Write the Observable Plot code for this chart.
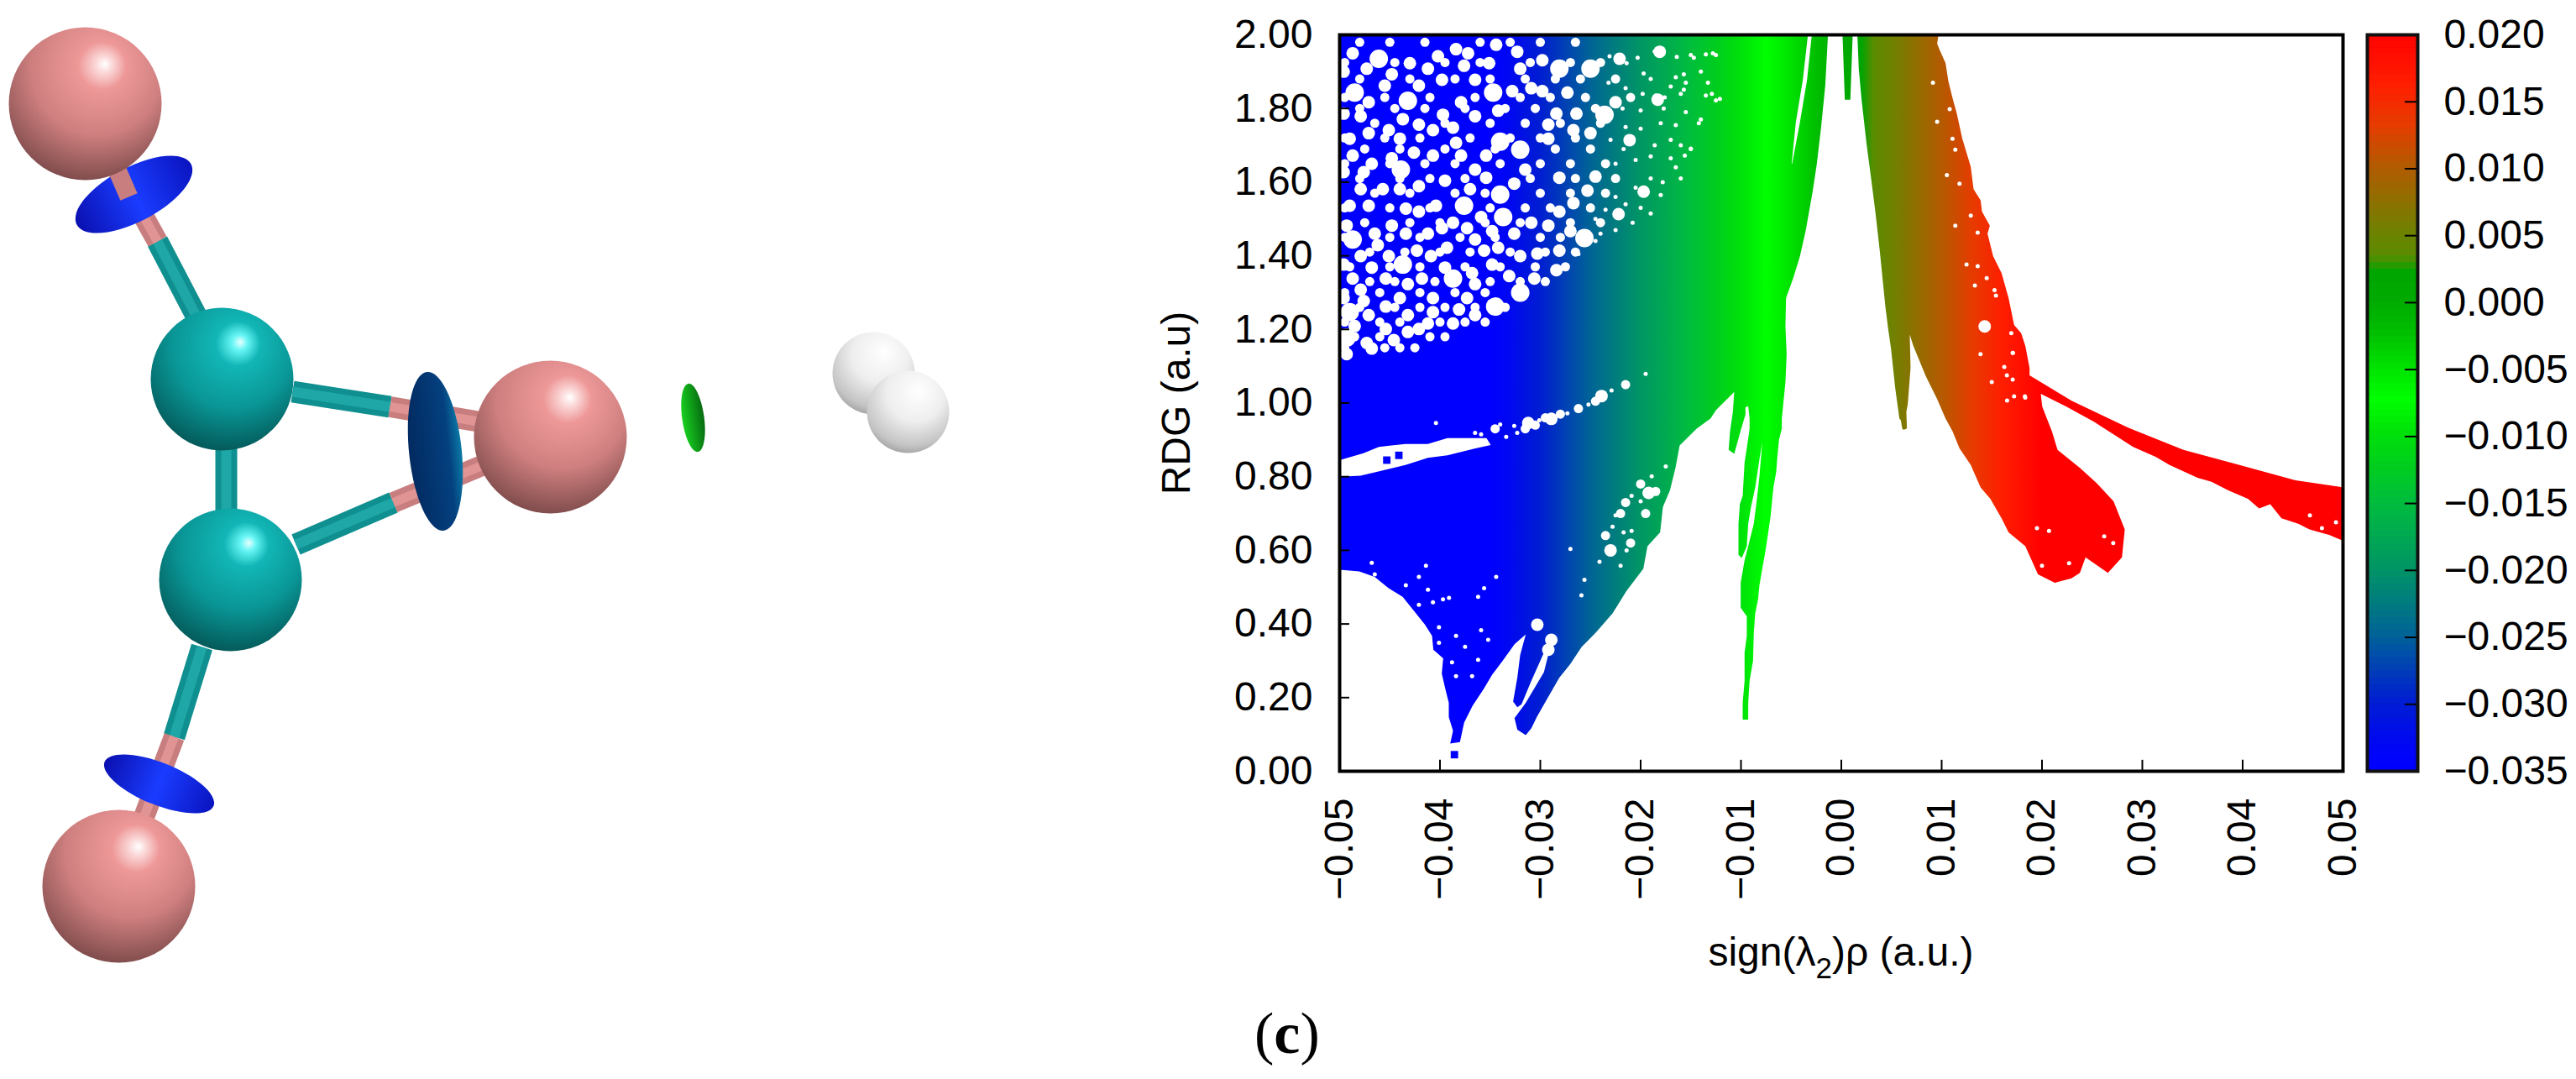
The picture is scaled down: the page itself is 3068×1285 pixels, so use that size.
<!DOCTYPE html>
<html>
<head>
<meta charset="utf-8">
<script src="https://cdn.jsdelivr.net/npm/d3@7"></script>
<script src="https://cdn.jsdelivr.net/npm/@observablehq/plot@0.6"></script>
<style>
  body { margin: 0; background: #fff; }
  #page { position: relative; width: 3068px; height: 1285px; overflow: hidden; }
  #panel { position: absolute; left: 1494px; top: 1191px; font: 70px "Liberation Serif", serif; color: #000; }
  #panel b { font-weight: 700; }
</style>
</head>
<body>
<div id="page"><div id="panel">(<b>c</b>)</div></div>
<script>
// axis ticks
const xTicks = [-0.05, -0.04, -0.03, -0.02, -0.01, 0, 0.01, 0.02, 0.03, 0.04, 0.05];
const yTicks = [0, 0.2, 0.4, 0.6, 0.8, 1, 1.2, 1.4, 1.6, 1.8, 2];
const cbTicks = [-0.035, -0.03, -0.025, -0.02, -0.015, -0.01, -0.005, 0, 0.005, 0.01, 0.015, 0.02];

// colour bar
const colorStops = [-0.035, -0.033, -0.03, -0.025, -0.02, -0.015, -0.0125, -0.01, -0.0075, -0.005, -0.0025, 0, 0.002, 0.0032, 0.005, 0.01, 0.013, 0.016, 0.02];
const colorRange = ["#0000ff", "#0008f0", "#001ed2", "#006496", "#009664", "#00be3c", "#00cd1e", "#00e10a", "#00ff00", "#00e100", "#00be00", "#00aa00", "#00a500", "#5a8c00", "#6e8200", "#b45a00", "#e63c00", "#ff1e00", "#ff0000"];

// outlines of the point cloud [sign(l2)rho, RDG]
const mainCloud = [[-0.05,2],[-0.00133,2],[-0.0016,1.862],[-0.00202,1.748],[-0.00244,1.65],[-0.00286,1.574],[-0.00356,1.467],[-0.00412,1.399],[-0.00481,1.338],[-0.00551,1.285],[-0.00557,1.209],[-0.00545,1.133],[-0.00557,1.057],[-0.00593,0.958],[-0.00593,0.931],[-0.00621,0.9],[-0.00635,0.862],[-0.00649,0.813],[-0.00677,0.771],[-0.00704,0.695],[-0.00732,0.642],[-0.0076,0.592],[-0.00788,0.55],[-0.00816,0.505],[-0.0083,0.467],[-0.00858,0.429],[-0.00872,0.376],[-0.0088,0.3],[-0.00914,0.246],[-0.00928,0.186],[-0.00928,0.14],[-0.00983,0.14],[-0.00983,0.186],[-0.00964,0.246],[-0.00964,0.322],[-0.00942,0.368],[-0.00942,0.421],[-0.01003,0.444],[-0.01003,0.512],[-0.00964,0.573],[-0.00928,0.611],[-0.009,0.642],[-0.00872,0.672],[-0.00844,0.733],[-0.00816,0.801],[-0.00802,0.847],[-0.00788,0.893],[-0.00816,0.847],[-0.00858,0.771],[-0.009,0.718],[-0.00928,0.672],[-0.00942,0.611],[-0.00992,0.579],[-0.01025,0.588],[-0.01025,0.672],[-0.01011,0.725],[-0.00983,0.748],[-0.00964,0.839],[-0.00942,0.877],[-0.00914,0.931],[-0.00914,0.958],[-0.00928,0.992],[-0.00956,0.988],[-0.00955,0.969],[-0.00997,0.931],[-0.01067,0.862],[-0.01123,0.873],[-0.01109,0.923],[-0.01081,0.976],[-0.01067,1.03],[-0.01248,0.981],[-0.01304,0.958],[-0.01444,0.93],[-0.01611,0.885],[-0.01653,0.824],[-0.01708,0.763],[-0.01778,0.718],[-0.01806,0.649],[-0.01932,0.611],[-0.01973,0.55],[-0.02141,0.49],[-0.0228,0.429],[-0.02448,0.376],[-0.02587,0.338],[-0.02699,0.292],[-0.0281,0.254],[-0.02922,0.201],[-0.03033,0.148],[-0.03089,0.117],[-0.03145,0.098],[-0.03229,0.113],[-0.03257,0.144],[-0.03145,0.186],[-0.02964,0.269],[-0.02894,0.345],[-0.02964,0.322],[-0.03089,0.246],[-0.03187,0.182],[-0.03229,0.174],[-0.03271,0.189],[-0.03229,0.254],[-0.03201,0.315],[-0.03145,0.372],[-0.03257,0.345],[-0.03368,0.303],[-0.0348,0.262],[-0.03563,0.224],[-0.03675,0.178],[-0.03759,0.132],[-0.03801,0.079],[-0.03898,0.075],[-0.0387,0.11],[-0.03912,0.147],[-0.03912,0.186],[-0.0394,0.216],[-0.03982,0.265],[-0.03968,0.307],[-0.04066,0.33],[-0.04079,0.368],[-0.04149,0.398],[-0.04261,0.436],[-0.04372,0.474],[-0.04512,0.497],[-0.04651,0.528],[-0.04805,0.543],[-0.04972,0.547],[-0.05,0.547]];
const redCloud = [[0.0016,2],[0.00174,1.908],[0.00202,1.824],[0.00224,1.771],[0.00252,1.703],[0.003,1.604],[0.00342,1.513],[0.00383,1.414],[0.00411,1.338],[0.00439,1.262],[0.00467,1.201],[0.00495,1.148],[0.00537,1.041],[0.00579,0.958],[0.00593,0.953],[0.00607,0.931],[0.0062,0.927],[0.00654,0.931],[0.00648,0.976],[0.00662,0.996],[0.0069,1.095],[0.00682,1.186],[0.00718,1.155],[0.00844,1.072],[0.00955,1.011],[0.01039,0.958],[0.01109,0.923],[0.01178,0.877],[0.0129,0.832],[0.01388,0.771],[0.01485,0.74],[0.01597,0.687],[0.01667,0.649],[0.01834,0.611],[0.0196,0.535],[0.02127,0.512],[0.02294,0.524],[0.02378,0.539],[0.02434,0.581],[0.02657,0.539],[0.02797,0.581],[0.02825,0.657],[0.02713,0.733],[0.02546,0.782],[0.02378,0.824],[0.02155,0.873],[0.02099,0.923],[0.02044,0.961],[0.02002,0.991],[0.01988,1.025],[0.02239,0.991],[0.02518,0.949],[0.02713,0.915],[0.02908,0.881],[0.03132,0.854],[0.03271,0.832],[0.0355,0.797],[0.03689,0.786],[0.03857,0.763],[0.04052,0.74],[0.04164,0.714],[0.04275,0.725],[0.04387,0.687],[0.04554,0.672],[0.04666,0.657],[0.04861,0.642],[0.05,0.626],[0.05,0.771],[0.04526,0.79],[0.03968,0.832],[0.0341,0.873],[0.02853,0.934],[0.02295,1.006],[0.01876,1.075],[0.01876,1.095],[0.01834,1.155],[0.01792,1.19],[0.01722,1.212],[0.01667,1.285],[0.01597,1.353],[0.01513,1.399],[0.01457,1.46],[0.0148,1.482],[0.01402,1.52],[0.01388,1.551],[0.01318,1.581],[0.0129,1.642],[0.01206,1.718],[0.01151,1.786],[0.01109,1.828],[0.01067,1.874],[0.01039,1.923],[0.00983,1.957],[0.00955,1.976],[0.00969,2]];
const centreSpike = [[0.00012,2],[0.00035,1.824],[0.0009,1.824],[0.00113,2]];

// empty parts of the cloud
const ribbonGap = [[-0.05,0.845],[-0.04763,0.864],[-0.04609,0.881],[-0.04484,0.885],[-0.04345,0.889],[-0.04121,0.889],[-0.03926,0.905],[-0.03536,0.905],[-0.03494,0.886],[-0.03647,0.877],[-0.03926,0.858],[-0.04121,0.851],[-0.04344,0.832],[-0.04596,0.815],[-0.04791,0.803],[-0.05,0.8]];
const slitGap = [[-0.00333,2],[-0.00384,1.877],[-0.00453,1.7635],[-0.00495,1.65],[-0.0049,1.65],[-0.00412,1.7635],[-0.00342,1.877],[-0.00294,2]];
const bigGaps = [[-0.0461,1.935],[-0.0281,1.908],[-0.025,1.908],[-0.0485,1.843],[-0.0432,1.821],[-0.0347,1.843],[-0.0236,1.783],[-0.032,1.688],[-0.0439,1.634],[-0.034,1.566],[-0.0376,1.536],[-0.0337,1.505],[-0.0487,1.444],[-0.0256,1.448],[-0.0437,1.376],[-0.0387,1.338],[-0.032,1.3],[-0.0345,1.262],[-0.049,1.247],[-0.0493,1.178],[-0.034,1.71]];
const midGaps = [[-0.0487,1.95],[-0.043,1.923],[-0.0402,1.942],[-0.0372,1.95],[-0.0344,1.973],[-0.0221,1.935],[-0.0181,1.954],[-0.0455,1.862],[-0.0397,1.783],[-0.0365,1.878],[-0.0387,1.748],[-0.0451,1.741],[-0.0479,1.779],[-0.0421,1.862],[-0.0342,1.794],[-0.0379,1.817],[-0.0398,1.878],[-0.0328,1.847],[-0.032,1.908],[-0.0298,1.931],[-0.0309,1.855],[-0.0298,1.847],[-0.0273,1.843],[-0.0284,1.786],[-0.0264,1.786],[-0.0225,1.817],[-0.0183,1.824],[-0.0376,1.916],[-0.0315,1.634],[-0.0384,1.707],[-0.0487,1.672],[-0.0468,1.65],[-0.0365,1.634],[-0.0354,1.672],[-0.0421,1.756],[-0.0407,1.741],[-0.044,1.718],[-0.0471,1.733],[-0.0292,1.756],[-0.0267,1.741],[-0.025,1.733],[-0.0292,1.718],[-0.0395,1.604],[-0.0457,1.581],[-0.0496,1.627],[-0.0476,1.627],[-0.0421,1.589],[-0.0326,1.596],[-0.0281,1.612],[-0.0245,1.615],[-0.0253,1.577],[-0.0197,1.574],[-0.0211,1.714],[-0.0222,1.513],[-0.0267,1.543],[-0.0281,1.52],[-0.0359,1.505],[-0.0421,1.52],[-0.0448,1.482],[-0.0471,1.536],[-0.049,1.536],[-0.0465,1.46],[-0.0434,1.46],[-0.0412,1.46],[-0.0393,1.422],[-0.0365,1.444],[-0.0326,1.46],[-0.0309,1.49],[-0.0292,1.482],[-0.027,1.467],[-0.0281,1.414],[-0.0303,1.406],[-0.0342,1.422],[-0.0409,1.399],[-0.0479,1.399],[-0.0462,1.429],[-0.0487,1.338],[-0.0468,1.368],[-0.0432,1.323],[-0.0368,1.353],[-0.0348,1.376],[-0.0331,1.345],[-0.0306,1.338],[-0.0284,1.361],[-0.0373,1.285],[-0.0407,1.285],[-0.0454,1.338],[-0.0479,1.308],[-0.0476,1.277],[-0.0471,1.239],[-0.0454,1.201],[-0.0432,1.239],[-0.0421,1.201],[-0.0407,1.247],[-0.0387,1.216],[-0.0365,1.239],[-0.0446,1.171],[-0.0473,1.163],[-0.0493,1.133],[-0.0432,1.193],[-0.0468,1.148],[-0.0496,1.786],[-0.0471,1.817],[-0.0448,1.893],[-0.0412,1.908],[-0.0384,1.961],[-0.0351,1.923],[-0.0323,1.954],[-0.0496,1.9],[-0.0473,1.908],[-0.0437,1.771],[-0.0365,1.779],[-0.0379,1.672],[-0.0407,1.672],[-0.0426,1.68],[-0.0448,1.665],[-0.049,1.718],[-0.037,1.581],[-0.0354,1.612],[-0.044,1.581],[-0.0479,1.581],[-0.0493,1.482],[-0.0434,1.528],[-0.0387,1.49],[-0.0404,1.536],[-0.0348,1.467],[-0.0398,1.475],[-0.0373,1.475],[-0.0423,1.414],[-0.0451,1.399],[-0.0496,1.376],[-0.0356,1.414],[-0.032,1.399],[-0.0365,1.323],[-0.0395,1.368],[-0.0418,1.338],[-0.044,1.285],[-0.0454,1.262],[-0.0381,1.254],[-0.0496,1.285],[-0.0485,1.209],[-0.0412,1.216],[0.01429,1.208],[-0.0303,0.398],[-0.023,0.6],[-0.0192,0.756],[-0.0289,0.357],[-0.0292,0.33],[-0.0312,0.946],[-0.0289,0.957],[-0.0239,1.019]];
const thinGaps = [[-0.048,1.98],[-0.045,1.98],[-0.0415,1.98],[-0.036,1.98],[-0.033,1.98],[-0.03,1.98],[-0.0265,1.98],[-0.0495,1.925],[-0.0445,1.925],[-0.0395,1.925],[-0.036,1.925],[-0.031,1.925],[-0.027,1.925],[-0.024,1.925],[-0.048,1.88],[-0.043,1.88],[-0.0385,1.88],[-0.035,1.88],[-0.0315,1.88],[-0.0285,1.88],[-0.026,1.88],[-0.0225,1.88],[-0.0495,1.83],[-0.0455,1.83],[-0.041,1.83],[-0.0365,1.83],[-0.032,1.83],[-0.029,1.83],[-0.0255,1.83],[-0.021,1.83],[-0.048,1.8],[-0.0445,1.8],[-0.0415,1.8],[-0.0375,1.8],[-0.0335,1.8],[-0.0305,1.8],[-0.0245,1.8],[-0.0465,1.76],[-0.0395,1.76],[-0.035,1.76],[-0.0315,1.76],[-0.028,1.76],[-0.024,1.76],[-0.0495,1.72],[-0.0455,1.72],[-0.042,1.72],[-0.037,1.72],[-0.033,1.72],[-0.03,1.72],[-0.0265,1.72],[-0.0475,1.69],[-0.044,1.69],[-0.0395,1.69],[-0.0345,1.69],[-0.0285,1.69],[-0.025,1.69],[-0.0495,1.65],[-0.045,1.65],[-0.0415,1.65],[-0.0385,1.65],[-0.034,1.65],[-0.03,1.65],[-0.027,1.65],[-0.0235,1.65],[-0.048,1.61],[-0.044,1.61],[-0.041,1.61],[-0.0375,1.61],[-0.031,1.61],[-0.0265,1.61],[-0.0225,1.61],[-0.0465,1.57],[-0.043,1.57],[-0.0385,1.57],[-0.0355,1.57],[-0.03,1.57],[-0.027,1.57],[-0.0235,1.57],[-0.0495,1.53],[-0.045,1.53],[-0.041,1.53],[-0.035,1.53],[-0.0315,1.53],[-0.029,1.53],[-0.025,1.53],[-0.0475,1.49],[-0.043,1.49],[-0.04,1.49],[-0.0355,1.49],[-0.032,1.49],[-0.027,1.49],[-0.024,1.49],[-0.0495,1.45],[-0.045,1.45],[-0.042,1.45],[-0.038,1.45],[-0.0345,1.45],[-0.03,1.45],[-0.028,1.45],[-0.047,1.41],[-0.0435,1.41],[-0.04,1.41],[-0.037,1.41],[-0.033,1.41],[-0.0295,1.41],[-0.0265,1.41],[-0.049,1.37],[-0.045,1.37],[-0.042,1.37],[-0.0375,1.37],[-0.034,1.37],[-0.0305,1.37],[-0.0275,1.37],[-0.047,1.33],[-0.0445,1.33],[-0.0405,1.33],[-0.035,1.33],[-0.032,1.33],[-0.0295,1.33],[-0.0495,1.3],[-0.046,1.3],[-0.042,1.3],[-0.0385,1.3],[-0.0355,1.3],[-0.048,1.26],[-0.0445,1.26],[-0.042,1.26],[-0.0395,1.26],[-0.0365,1.26],[-0.0335,1.26],[-0.0495,1.22],[-0.046,1.22],[-0.044,1.22],[-0.04,1.22],[-0.0375,1.22],[-0.0355,1.22],[-0.0485,1.18],[-0.046,1.18],[-0.041,1.18],[-0.0395,1.18],[-0.0495,1.15],[-0.0455,1.15],[-0.044,1.15],[-0.0425,1.15],[-0.0345,0.93],[-0.0315,0.93],[-0.0305,0.94],[-0.0295,0.96],[-0.028,0.97],[-0.0262,0.985],[-0.0245,1.005],[-0.0215,1.05],[-0.022,0.7],[-0.021,0.62],[-0.0195,0.7],[-0.0185,0.76],[-0.02,0.78],[-0.0215,0.73],[-0.0235,0.64]];
const smallGaps = [[-0.0214,1.923],[-0.0231,1.942],[-0.0203,1.938],[-0.0197,1.895],[-0.0186,1.955],[-0.0164,1.94],[-0.015,1.945],[-0.0135,1.947],[-0.019,1.88],[-0.0165,1.885],[-0.0155,1.87],[-0.014,1.9],[-0.0125,1.945],[-0.017,1.86],[-0.0185,1.835],[-0.0176,1.83],[-0.0198,1.84],[-0.0215,1.855],[-0.0232,1.87],[-0.016,1.84],[-0.0125,1.822],[-0.0135,1.835],[-0.0218,1.8],[-0.02,1.795],[-0.0177,1.8],[-0.0155,1.79],[-0.014,1.77],[-0.0165,1.755],[-0.018,1.76],[-0.0215,1.75],[-0.02,1.745],[-0.023,1.715],[-0.0217,1.69],[-0.0186,1.7],[-0.017,1.715],[-0.016,1.7],[-0.015,1.69],[-0.019,1.67],[-0.0205,1.66],[-0.0225,1.65],[-0.017,1.665],[-0.0165,1.64],[-0.016,1.61],[-0.0178,1.6],[-0.019,1.61],[-0.0205,1.585],[-0.018,1.565],[-0.0225,1.56],[-0.0215,1.54],[-0.02,1.53],[-0.0235,1.525],[-0.0245,1.5],[-0.0225,1.47],[-0.0208,1.49],[-0.019,1.515],[-0.024,1.46],[-0.0262,1.405],[-0.0245,1.44],[-0.0147,1.938],[-0.0128,1.95],[-0.0157,1.893],[-0.0133,1.87],[-0.0157,1.851],[-0.0129,1.84],[-0.0121,1.826],[-0.0142,1.76],[-0.0156,1.672],[-0.015,1.691],[0.00913,1.87],[0.00955,1.764],[0.0108,1.798],[0.01108,1.718],[0.01136,1.688],[0.01178,1.596],[0.01052,1.619],[0.0129,1.509],[0.01136,1.482],[0.01359,1.463],[0.01248,1.376],[0.01359,1.372],[0.01449,1.339],[0.01527,1.307],[0.01331,1.319],[0.01541,1.292],[0.01694,1.19],[0.01708,1.136],[0.01624,1.098],[0.01722,1.018],[0.01833,1.015],[0.01652,1.007],[0.01387,1.133],[0.01499,1.057],[0.01708,1.064],[0.0171,1.136],[0.0165,1.075],[0.0183,1.018],[0.0195,0.66],[0.0207,0.653],[0.0262,0.638],[0.0271,0.62],[0.02,0.558],[0.0227,0.565],[0.0467,0.695],[0.0493,0.676],[0.0479,0.66],[-0.0421,0.528],[-0.0414,0.558],[-0.0391,0.471],[-0.0397,0.467],[-0.0407,0.459],[-0.0421,0.452],[-0.0362,0.474],[-0.0356,0.497],[-0.0412,0.493],[-0.0401,0.391],[-0.0401,0.349],[-0.0384,0.368],[-0.0359,0.383],[-0.0375,0.338],[-0.0362,0.303],[-0.0368,0.258],[-0.0384,0.258],[-0.0388,0.296],[-0.0352,0.357],[-0.0344,0.528],[-0.0434,0.505],[-0.0468,0.566],[-0.0465,0.535],[-0.0259,0.478],[-0.0256,0.52],[-0.027,0.604],[-0.0225,0.695],[-0.0228,0.664],[-0.0217,0.649],[-0.0241,0.569],[-0.0209,0.653],[-0.02,0.733],[-0.0209,0.748],[-0.0189,0.801],[-0.0175,0.828],[-0.0214,0.6],[-0.022,0.558],[-0.034,0.942],[-0.0326,0.938],[-0.0334,0.908],[-0.0323,0.919],[-0.0301,0.953],[-0.0273,0.972],[-0.0365,0.919],[-0.0359,0.915],[-0.0404,0.946],[-0.0229,1.034],[-0.0252,0.996],[-0.0195,1.079]];
// lone points outside the outlines
const lonePoints = [[-0.03856,0.045],[-0.0453,0.845],[-0.0441,0.858]];

// molecule, panel pixels
const bromine = [[101,123],[655,520],[141,1055]];
const carbon = [[264,451],[274,690]];
const hydrogen = [[1040,444],[1081,490]];
const cyanBonds = [[236,381,187,287],[269,533,269,611],[348,466,464,484],[352,648,468,598],[240,770,207,877]];
const pinkBonds = [[187,287,137,197],[464,484,572,502],[468,598,576,553],[207,877,170,975]];
const pinkStub = [[137,197,153,234]];

const page = document.getElementById("page");
const tick2 = d3.format(".2f");
const tick3 = d3.format(".3f");
const textStyle = { fontFamily: '"Liberation Sans", Arial, sans-serif', fontSize: "48px", color: "#000", background: "transparent", maxWidth: "none", position: "absolute", top: "0" };
const PLOT_TOP = 41;
const PLOT_BOTTOM = 367;

function rampDefs(index, scales) {
  const defs = d3.create("svg:defs");
  const grad = defs.append("linearGradient").attr("id", "rdgRamp").attr("gradientUnits", "userSpaceOnUse")
    .attr("x1", scales.x(-0.035)).attr("x2", scales.x(0.02)).attr("y1", 0).attr("y2", 0);
  colorStops.forEach((v, i) => {
    grad.append("stop").attr("offset", (v + 0.035) / 0.055).attr("stop-color", colorRange[i]);
  });
  return defs.node();
}

function xLabel(index, scales) {
  const t = d3.create("svg:text").attr("x", scales.x(0)).attr("y", 1150).attr("text-anchor", "middle").attr("fill", "#000");
  t.append("tspan").text("sign(λ");
  t.append("tspan").attr("dy", 15).attr("font-size", 35).text("2");
  t.append("tspan").attr("dy", -15).text(")ρ (a.u.)");
  return t.node();
}

const cloud = (pts, fill) => Plot.line(pts, { x: (d) => d[0], y: (d) => d[1], fill, stroke: "none", clip: true });
const gaps = (pts, r) => Plot.dot(pts, { x: (d) => d[0], y: (d) => d[1], r, fill: "#fff", clip: true });

const scatter = Plot.plot({
  width: 1520,
  height: 1285,
  marginLeft: 295,
  marginRight: 30,
  marginTop: PLOT_TOP,
  marginBottom: PLOT_BOTTOM,
  style: { ...textStyle, left: "1300px" },
  x: { domain: [-0.05, 0.05] },
  y: { domain: [0, 2] },
  color: { type: "linear", domain: colorStops, range: colorRange, interpolate: "rgb" },
  marks: [
    rampDefs,
    cloud(mainCloud, "url(#rdgRamp)"),
    cloud(redCloud, "url(#rdgRamp)"),
    cloud(centreSpike, "url(#rdgRamp)"),
    cloud(ribbonGap, "#fff"),
    cloud(slitGap, "#fff"),
    gaps(bigGaps, 11),
    gaps(midGaps, 7.5),
    gaps(thinGaps, 5.5),
    gaps(smallGaps, 2.5),
    Plot.dot(lonePoints, { x: (d) => d[0], y: (d) => d[1], r: 5, fill: (d) => d[0], symbol: "square" }),
    Plot.ruleX(xTicks, { y1: 0, y2: 0.03, stroke: "#000", strokeWidth: 2 }),
    Plot.ruleY(yTicks, { x1: -0.05, x2: -0.049, stroke: "#000", strokeWidth: 2 }),
    Plot.frame({ stroke: "#000", strokeWidth: 4 }),
    Plot.axisX(xTicks, { tickSize: 0, tickPadding: 32, tickRotate: -90, tickFormat: tick2, label: null }),
    Plot.axisY(yTicks, { tickSize: 0, tickPadding: 32, tickFormat: tick2, label: null }),
    Plot.text(["RDG (a.u)"], { frameAnchor: "left", dx: -179, rotate: -90, textAnchor: "middle", lineAnchor: "bottom", text: (d) => d }),
    xLabel,
  ],
});
page.appendChild(scatter);

const cbSteps = d3.range(0, 110).map((i) => -0.035 + i * 0.0005);
const colorbar = Plot.plot({
  width: 268,
  height: 1285,
  marginLeft: 19,
  marginRight: 189,
  marginTop: PLOT_TOP,
  marginBottom: PLOT_BOTTOM,
  style: { ...textStyle, left: "2800px" },
  x: { domain: [0, 1], axis: null },
  y: { domain: [-0.035, 0.02] },
  color: { type: "linear", domain: colorStops, range: colorRange, interpolate: "rgb" },
  marks: [
    Plot.rect(cbSteps, { x1: 0, x2: 1, y1: (d) => d, y2: (d) => d + 0.00075, fill: (d) => d, clip: true }),
    Plot.ruleY(cbTicks, { x1: 0.75, x2: 1, stroke: "#000", strokeWidth: 2 }),
    Plot.frame({ stroke: "#111", strokeWidth: 4 }),
    Plot.axisY(cbTicks, { anchor: "right", tickSize: 0, tickPadding: 31, tickFormat: tick3, label: null }),
  ],
});
page.appendChild(colorbar);

// sphere and disc shading
function moleculeDefs() {
  const defs = d3.create("svg:defs");
  const sphere = (id, stops) => {
    const g = defs.append("radialGradient").attr("id", id).attr("cx", 0.54).attr("cy", 0.3).attr("r", 0.78).attr("fx", 0.63).attr("fy", 0.24);
    stops.forEach(([o, c]) => g.append("stop").attr("offset", o).attr("stop-color", c));
  };
  sphere("brAtom", [[0, "#ffffff"], [0.07, "#fbd8d8"], [0.2, "#ee9898"], [0.55, "#cf7f7f"], [0.85, "#8e5555"], [1, "#6e4040"]]);
  sphere("cAtom", [[0, "#e8ffff"], [0.07, "#66f5f5"], [0.2, "#12b6b6"], [0.55, "#0a9696"], [0.85, "#056464"], [1, "#044a4a"]]);
  sphere("hAtom", [[0, "#ffffff"], [0.45, "#eeeeee"], [0.8, "#c4c4c4"], [1, "#8f8f8f"]]);
  const shade = (id, stops, across) => {
    const g = defs.append("linearGradient").attr("id", id).attr("x1", 0).attr("y1", 0).attr("x2", across ? 0 : 1).attr("y2", across ? 1 : 0);
    stops.forEach(([o, c]) => g.append("stop").attr("offset", o).attr("stop-color", c));
  };
  shade("discBlue", [[0, "#0a10b0"], [0.5, "#1a3cff"], [1, "#0a14c0"]], false);
  shade("discNavy", [[0, "#0b7aa6"], [0.25, "#04407f"], [1, "#022a60"]], true);
  shade("discGreen", [[0, "#066a10"], [1, "#18d020"]], true);
  return defs.node();
}

// flattened circle for the dot mark; k is minor/major
const ellipse = (k) => ({
  draw(ctx, size) {
    const a = Math.sqrt(size / Math.PI), b = a * k, c = 0.5523;
    ctx.moveTo(-a, 0);
    ctx.bezierCurveTo(-a, -b * c, -a * c, -b, 0, -b);
    ctx.bezierCurveTo(a * c, -b, a, -b * c, a, 0);
    ctx.bezierCurveTo(a, b * c, a * c, b, 0, b);
    ctx.bezierCurveTo(-a * c, b, -a, b * c, -a, 0);
    ctx.closePath();
  },
});
const atoms = (pts, r, fill) => Plot.dot(pts, { x: (d) => d[0], y: (d) => d[1], r, fill });
const disc = (x, y, a, k, rotate, fill) => Plot.dot([[x, y]], { x: (d) => d[0], y: (d) => d[1], r: a, symbol: ellipse(k), rotate, fill });
const bonds = (rows, stroke, strokeWidth) => Plot.link(rows, { x1: (d) => d[0], y1: (d) => d[1], x2: (d) => d[2], y2: (d) => d[3], stroke, strokeWidth });

const molecule = Plot.plot({
  width: 1300,
  height: 1285,
  margin: 0,
  style: { ...textStyle, left: "0" },
  x: { domain: [0, 1300], axis: null },
  y: { domain: [0, 1285], range: [0, 1285], axis: null },
  marks: [
    moleculeDefs,
    bonds(cyanBonds, "#0f8f8f", 26),
    bonds(cyanBonds, "#1fa6a6", 12),
    bonds(pinkBonds, "#c87e7e", 25),
    bonds(pinkBonds, "#e09494", 11),
    disc(159, 231, 77, 0.42, -28, "url(#discBlue)"),
    disc(189, 933, 70, 0.36, 22, "url(#discBlue)"),
    disc(518, 537, 95, 0.33, 84, "url(#discNavy)"),
    disc(825, 497, 41, 0.32, 82, "url(#discGreen)"),
    bonds(pinkStub, "#c87e7e", 22),
    atoms(bromine, 91, "url(#brAtom)"),
    atoms(carbon, 85, "url(#cAtom)"),
    atoms(hydrogen, 49, "url(#hAtom)"),
  ],
});
page.appendChild(molecule);
</script>
</body>
</html>
